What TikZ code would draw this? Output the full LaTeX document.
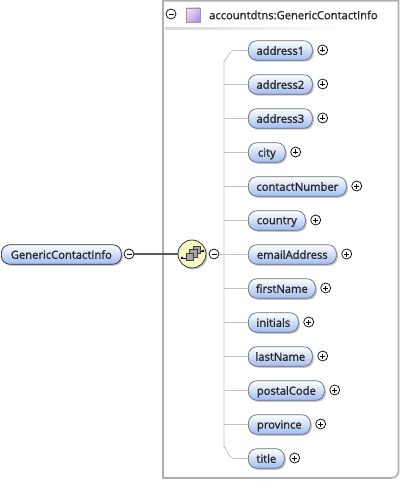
\documentclass[tikz,border=0pt]{standalone}
\usepackage{fontspec}
\setmainfont{Open Sans}[FakeBold=1.2]
\usetikzlibrary{calc,shadows}
\definecolor{elemblue}{RGB}{160,188,240}
\definecolor{elemedge}{RGB}{100,106,122}
\definecolor{rootedge}{RGB}{30,40,70}
\definecolor{treegray}{RGB}{195,195,195}
\definecolor{boxgray}{RGB}{176,176,176}
\definecolor{seqyellow}{RGB}{250,246,196}
\definecolor{squareviolet}{RGB}{176,150,220}
\newcommand{\labelfont}{\fontsize{11.2}{12}\selectfont}
\tikzset{
  x=1pt,y=-1pt,
  elem/.style={draw=elemedge,line width=0.7pt,rounded corners=8.5pt,minimum height=19.5pt,inner sep=0pt,
    anchor=west,top color=white,bottom color=elemblue,text=black!85,text depth=0pt,
    font=\labelfont,
    drop shadow={shadow xshift=1.5pt,shadow yshift=-1.5pt,fill=black!40,opacity=0.55}},
  toggle/.style={circle,draw=black,fill=white,line width=0.7pt,minimum size=10pt,inner sep=0pt},
  tree/.style={draw=treegray,line width=0.8pt},
  mk/.style={line width=0.7pt,black},
}
\newcommand{\plusmark}[1]{\draw[mk] ($(#1)+(-2.5,0)$) -- ($(#1)+(2.5,0)$) ($(#1)+(0,-2.5)$) -- ($(#1)+(0,2.5)$);}
\newcommand{\minusmark}[1]{\draw[mk] ($(#1)+(-2.5,0)$) -- ($(#1)+(2.5,0)$);}
\begin{document}
\begin{tikzpicture}
\useasboundingbox (0,0) rectangle (401,481);
% enclosing box
\draw[draw=boxgray,line width=1.6pt,fill=white] (163,0.8) -- (398.5,0.8) -- (398.5,471) arc[start angle=0,end angle=90,radius=7,y=1pt] -- (163,478) -- cycle;
% header
\node[toggle] (hdrtoggle) at (171,14) {};
\minusmark{hdrtoggle}
\node[draw=black!40,line width=0.6pt,minimum size=14pt,inner sep=0pt,top color=white!70!squareviolet,bottom color=squareviolet,shading angle=45] (hdrsquare) at (193,15) {};
\node[anchor=west,inner sep=0pt,text=black!85,font=\labelfont] (hdrtext) at (209,15) {accountdtns:GenericContactInfo};
\shade[left color=black!15,right color=white] (165,28) rectangle (342,30);
% connector nodes
\node[elem,draw=rootedge,minimum width=120pt] (root) at (1,254.5) {GenericContactInfo};
\node[toggle] (roottoggle) at (129,254) {};
\minusmark{roottoggle}
\coordinate (trunk) at (224,254);
\coordinate (seqc) at (192,254);
\draw[draw=black!65,line width=1.5pt] (roottoggle) -- (seqc);
\node[circle,draw=black!80,line width=0.8pt,minimum size=28pt,inner sep=0pt,fill=seqyellow,
  drop shadow={shadow xshift=1.5pt,shadow yshift=-1.5pt,fill=black!40,opacity=0.55}] (seq) at (seqc) {};
\node[toggle] (seqtoggle) at (214,254) {};
\minusmark{seqtoggle}
\draw[tree] (seqtoggle) -- (trunk);
% sequence glyph
\draw[black,line width=0.8pt] ($(seq)+(-10,4)$) -- ($(seq)+(-6,4)$) ($(seq)+(6,-3)$) -- ($(seq)+(11,-3)$);
\fill[black] ($(seq)+(-10,4)$) circle (1.4) ($(seq)+(11,-3)$) circle (1.4);
\foreach \dx/\dy in {1/-8,-2.5/-4.5,-6/-1}{
  \draw[black!75,fill=black!35,line width=0.7pt] ($(seq)+(\dx,\dy)$) rectangle ++(7.5,7.5);
}
% elements
\foreach \name/\wid/\cy in {address1/64/50.5,address2/64/84.5,address3/64/118.5,city/37/152.5,contactNumber/98/186.5,country/57/220.5,emailAddress/88/254.5,firstName/67/288.5,initials/50/322.5,lastName/64/356.5,postalCode/76/390.5,province/62/424.5,title/36/458.5}{
  \node[elem,minimum width=\wid pt] (\name) at (248,\cy) {\name};
  \node[toggle,anchor=center] (\name t) at ($(\name.east)+(10,-0.5)$) {};
  \plusmark{\name t}
}
\draw[tree] (address1.west) -- (234,50.5) to[out=180,in=270] (224,60) -- (224,448) to[out=90,in=180] (234,458.5) -- (title.west);
\foreach \name in {address2,address3,city,contactNumber,country,emailAddress,firstName,initials,lastName,postalCode,province}{
  \draw[tree] (224,0 |- \name.west) -- (\name.west);
}
\end{tikzpicture}
\end{document}
